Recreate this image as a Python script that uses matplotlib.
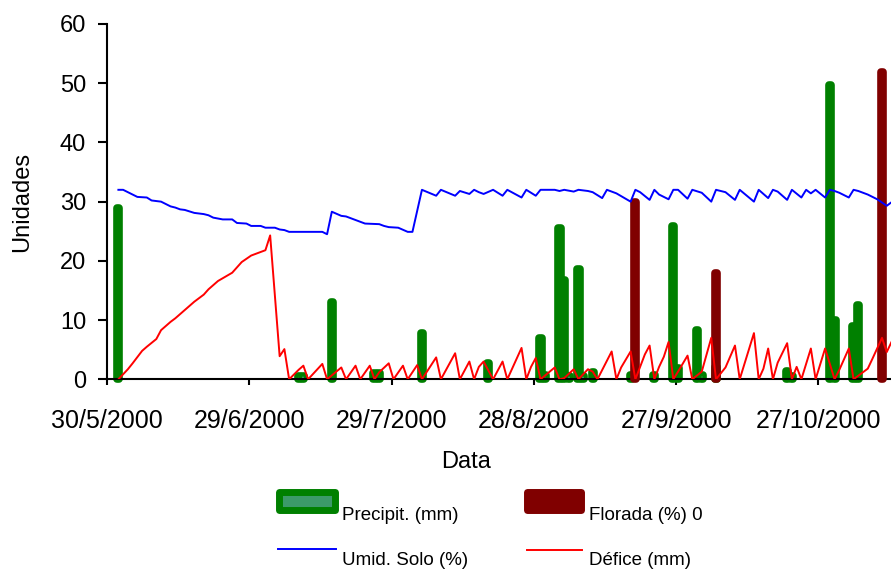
import matplotlib
matplotlib.use("Agg")
import matplotlib.pyplot as plt
from matplotlib.patches import Rectangle
from matplotlib.lines import Line2D

plt.rcParams["font.family"] = ["Liberation Sans", "DejaVu Sans"]

# days counted from 30/5/2000
precip_day = [2, 40, 41, 47, 56, 57, 66, 80, 91, 92, 95, 96, 97, 99, 100, 102, 110, 115,
              119, 120, 124, 125, 128, 143, 144, 152, 153, 157, 158]
precip_mm = [29.0, 0.6, 0.6, 13.1, 1.0, 1.0, 7.9, 2.8, 6.9, 0.8, 25.5, 16.7, 0.5, 18.7, 0.6,
             1.2, 0.7, 0.7, 25.9, 1.9, 8.3, 0.7, 2.1, 1.4, 0.6, 49.7, 10.0, 9.0, 12.6]

florada_day = [111, 128, 163]
florada_pct = [30.0, 18.0, 51.9]

umid_day = [2, 3, 5, 6, 8, 9, 11, 13, 14, 15, 16, 18, 20, 21, 22, 24, 26, 27, 29, 30,
            32, 33, 35, 36, 37, 38, 45, 46, 47, 49, 50, 52, 53, 54, 57, 58, 59, 61, 63, 64,
            66, 69, 70, 73, 74, 76, 77, 78, 79, 81, 83, 84, 87, 88, 89, 90, 91, 94, 95, 96,
            98, 99, 101, 102, 104, 105, 107, 110, 111, 112, 114, 115, 116, 118, 119, 120,
            122, 123, 125, 127, 128, 129, 130, 132, 133, 136, 137, 139, 140, 141, 143, 144,
            146, 147, 148, 149, 151, 152, 153, 154, 156, 157, 158, 160, 162, 164, 165]
umid_pct = [32.0, 32.0, 31.2, 30.8, 30.7, 30.2, 30.0, 29.2, 29.0, 28.7, 28.6, 28.1, 27.9,
            27.7, 27.3, 27.0, 27.0, 26.4, 26.3, 25.9, 25.9, 25.6, 25.6, 25.3, 25.2, 24.9,
            24.9, 24.5, 28.3, 27.6, 27.5, 26.9, 26.6, 26.3, 26.2, 25.9, 25.7, 25.6, 24.9,
            24.9, 32.0, 31.0, 32.0, 31.0, 31.8, 31.3, 32.0, 31.6, 31.3, 32.0, 31.0, 32.0,
            30.7, 32.0, 31.5, 31.0, 32.0, 32.0, 31.8, 32.0, 31.7, 32.0, 31.8, 31.6, 30.6,
            32.0, 31.4, 30.0, 32.0, 31.6, 30.3, 32.0, 31.2, 30.4, 32.0, 32.0, 30.5, 32.0,
            31.5, 30.0, 32.0, 31.8, 31.6, 30.3, 32.0, 30.0, 32.0, 30.6, 32.0, 31.7, 30.3,
            32.0, 30.7, 32.0, 31.4, 32.0, 30.7, 32.0, 31.8, 31.5, 30.7, 32.0, 31.8, 31.2,
            30.4, 29.3, 29.9]

defice_day = [2, 4, 5, 7, 8, 10, 11, 13, 14, 16, 18, 20, 21, 23, 26, 28, 30, 33, 34, 36,
              37, 38, 40, 41, 42, 45, 46, 49, 50, 52, 53, 55, 56, 57, 59, 60, 62, 63, 65, 66,
              69, 70, 73, 74, 76, 77, 78, 79, 81, 83, 84, 87, 88, 89, 90, 91, 94, 95, 96, 98,
              99, 101, 102, 103, 106, 107, 108, 110, 111, 113, 114, 115, 116, 117, 118, 119,
              120, 122, 123, 125, 127, 128, 130, 132, 133, 136, 137, 138, 139, 140, 141, 143,
              144, 145, 146, 148, 149, 151, 153, 154, 156, 157, 160, 161, 163, 164, 165]
defice_mm = [0, 1.7, 2.7, 4.8, 5.5, 6.8, 8.3, 9.7, 10.3, 11.7, 13.1, 14.3, 15.2, 16.6, 18.0,
             19.8, 20.9, 21.8, 24.3, 3.9, 5.1, 0, 1.6, 2.3, 0, 2.6, 0, 2.0, 0, 2.3, 0, 2.3,
             0, 1.2, 2.7, 0, 2.3, 0, 2.4, 0, 3.7, 0, 4.4, 0, 3.0, 0, 2.1, 3.0, 0, 3.0, 0,
             5.3, 0, 2.1, 3.6, 0, 2.0, 0, 0.2, 1.7, 0, 1.7, 1.3, 0, 4.7, 0, 2.0, 4.7, 0, 4.2,
             5.7, 0, 2.1, 3.8, 6.3, 0, 1.3, 4.0, 0, 1.3, 7.0, 0, 2.0, 5.7, 0, 7.8, 0, 1.8,
             5.2, 0, 2.8, 6.1, 0, 2.1, 0, 5.2, 0, 5.2, 0, 1.6, 5.2, 0, 1.8, 3.5, 7.0, 4.6, 6.3]

tick_days = [0, 30, 60, 90, 120, 150]
tick_labels = ["30/5/2000", "29/6/2000", "29/7/2000", "28/8/2000", "27/9/2000", "27/10/2000"]

W, H = 891, 571
x_offset = 0.4  # points sit slightly right of the date tick


def shift(days):
    return [d + x_offset for d in days]


def fx(px):
    return px / W


def fy(py):
    return 1 - py / H


fig = plt.figure(figsize=(W / 100, H / 100), dpi=100)
ax = fig.add_axes([fx(107), fy(379.3), (891 - 107) / W, (379.3 - 24) / H])

green_edge = "#008000"
green_face = "#3c9a69"
maroon = "#800000"

ax.bar(shift(precip_day), precip_mm, width=0.45, color=green_face, edgecolor=green_edge,
       linewidth=5.5, joinstyle="round", zorder=2, clip_on=False)
ax.bar(shift(florada_day), florada_pct, width=0.45, color=maroon, edgecolor=maroon,
       linewidth=5.5, joinstyle="round", zorder=2.5, clip_on=False)
ax.plot(shift(umid_day), umid_pct, color="#0000ff", lw=1.4, zorder=3)
ax.plot(shift(defice_day), defice_mm, color="#ff0000", lw=1.4, zorder=3)

ax.set_xlim(0, 784 / 4.743)
ax.set_ylim(0, 60)
ax.set_yticks(range(0, 61, 10))
ax.set_xticks(tick_days)
ax.set_xticklabels(tick_labels)

for side in ["top", "right"]:
    ax.spines[side].set_visible(False)
for side in ["left", "bottom"]:
    ax.spines[side].set_linewidth(1.5)
    ax.spines[side].set_zorder(2.2)

ax.tick_params(axis="x", length=4.3, width=1.5, pad=17, labelsize=18)
ax.tick_params(axis="y", length=6.5, width=1.5, pad=8.6, labelsize=17)

ax.set_ylabel("Unidades", fontsize=17, va="center")
ax.yaxis.set_label_coords((22.5 - 107) / 784, 0.5)
ax.set_xlabel("Data", fontsize=17, va="center")
ax.xaxis.set_label_coords((466 - 107) / 784, (379.3 - 462) / 355.3)

# legend drawn by hand below the axes
fig.add_artist(Rectangle((fx(278.5), fy(509.5)), fx(56), 18 / H, transform=fig.transFigure,
                         facecolor=green_face, edgecolor=green_edge, linewidth=5,
                         joinstyle="round"))
fig.add_artist(Rectangle((fx(526.8), fy(509.5)), fx(54.7), 18 / H, transform=fig.transFigure,
                         facecolor=maroon, edgecolor=maroon, linewidth=5, joinstyle="round"))
fig.add_artist(Line2D([fx(278.3), fx(336)], [fy(549.3), fy(549.3)], transform=fig.transFigure,
                      color="#0000ff", lw=1.4))
fig.add_artist(Line2D([fx(526.7), fx(581.7)], [fy(549.7), fy(549.7)], transform=fig.transFigure,
                      color="#ff0000", lw=1.4))

legend_font = 13.5
fig.text(fx(341.7), fy(519.5), "Precipit. (mm)", fontsize=legend_font, va="baseline")
fig.text(fx(589.3), fy(519.5), "Florada (%) 0", fontsize=legend_font, va="baseline")
fig.text(fx(341.7), fy(565), "Umid. Solo (%)", fontsize=legend_font, va="baseline")
fig.text(fx(589.3), fy(565), "Défice (mm)", fontsize=legend_font, va="baseline")

fig.savefig("out.png", dpi=100)
plt.close(fig)
